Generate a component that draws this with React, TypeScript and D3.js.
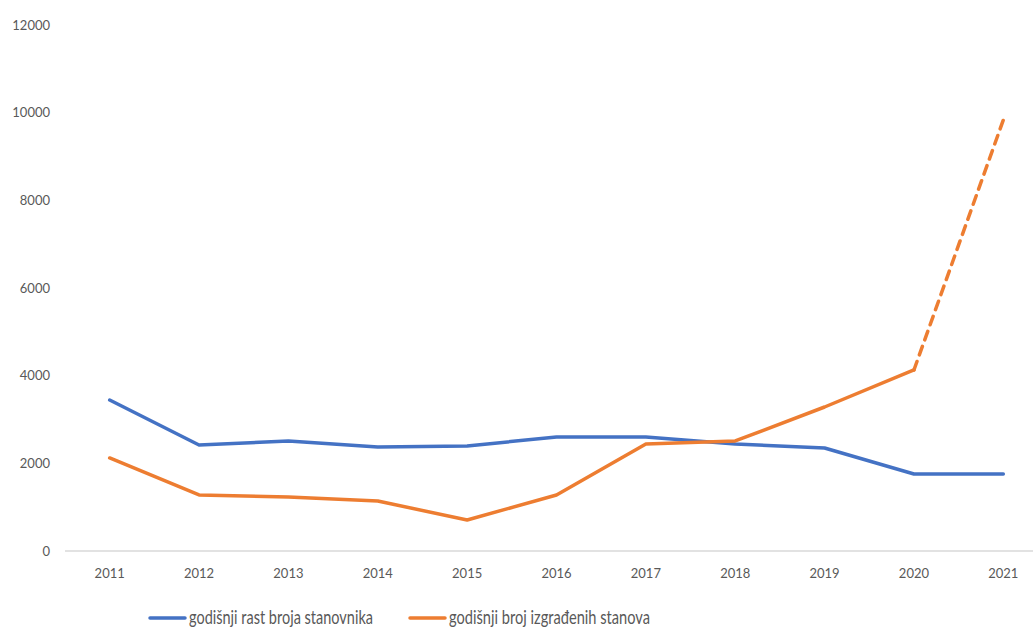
import React, { useEffect, useRef } from 'react';
import * as d3 from 'd3';

const years = ['2011', '2012', '2013', '2014', '2015', '2016', '2017', '2018', '2019', '2020', '2021'];
const populationGrowth = [3445, 2418, 2510, 2373, 2396, 2601, 2601, 2441, 2350, 1757, 1757];
const flatsBuilt = [2122, 1278, 1232, 1141, 707, 1278, 2441, 2510, 3285, 4130, 9833];
const yTicks = [0, 2000, 4000, 6000, 8000, 10000, 12000];
const seriesNames = ['godišnji rast broja stanovnika', 'godišnji broj izgrađenih stanova'];

const W = 1033;
const H = 630;
const BLUE = '#4472C4';
const ORANGE = '#ED7D31';
const FONT = 'Lato, "Open Sans", sans-serif';

export default function App() {
  const ref = useRef<SVGSVGElement>(null);

  useEffect(() => {
    const svg = d3.select(ref.current);
    svg.selectAll('*').remove();

    const x = d3.scaleBand().domain(years).range([65, 1048]);
    const cx = (d: string) => (x(d) as number) + x.bandwidth() / 2;
    const y = d3.scaleLinear().domain([0, 12000]).range([551, 25]);

    // y tick labels (no gridlines)
    svg.append('g')
      .selectAll('text')
      .data(yTicks)
      .enter()
      .append('text')
      .attr('x', 50)
      .attr('y', d => y(d))
      .attr('dy', '0.35em')
      .attr('text-anchor', 'end')
      .attr('font-family', FONT)
      .attr('font-size', 13)
      .attr('fill', '#595959')
      .text(d => d);

    // category axis line
    svg.append('line')
      .attr('x1', 65)
      .attr('x2', W)
      .attr('y1', y(0))
      .attr('y2', y(0))
      .attr('stroke', '#d9d9d9')
      .attr('stroke-width', 1.3);

    svg.append('g')
      .selectAll('text')
      .data(years)
      .enter()
      .append('text')
      .attr('x', d => cx(d))
      .attr('y', 578)
      .attr('text-anchor', 'middle')
      .attr('font-family', FONT)
      .attr('font-size', 13)
      .attr('fill', '#595959')
      .text(d => d);

    const line = d3.line<number>()
      .x((_, i) => cx(years[i]))
      .y(d => y(d));

    svg.append('path')
      .attr('d', line(populationGrowth))
      .attr('fill', 'none')
      .attr('stroke', BLUE)
      .attr('stroke-width', 3.5)
      .attr('stroke-linecap', 'round')
      .attr('stroke-linejoin', 'round');

    // orange: solid up to 2020, dashed for the last segment
    const last = flatsBuilt.length - 1;
    svg.append('path')
      .attr('d', line(flatsBuilt.slice(0, last)))
      .attr('fill', 'none')
      .attr('stroke', ORANGE)
      .attr('stroke-width', 3.5)
      .attr('stroke-linecap', 'round')
      .attr('stroke-linejoin', 'round');

    const dashLine = d3.line<number>()
      .x((_, i) => cx(years[last - 1 + i]))
      .y(d => y(d));
    svg.append('path')
      .attr('d', dashLine(flatsBuilt.slice(last - 1)))
      .attr('fill', 'none')
      .attr('stroke', ORANGE)
      .attr('stroke-width', 3.5)
      .attr('stroke-dasharray', '9 7')
      .attr('stroke-linecap', 'round');

    // legend
    const legendX = [150, 410];
    const legendW = [184, 201];
    const colors = [BLUE, ORANGE];
    const leg = svg.append('g');
    seriesNames.forEach((name, i) => {
      leg.append('line')
        .attr('x1', legendX[i])
        .attr('x2', legendX[i] + 35)
        .attr('y1', 618)
        .attr('y2', 618)
        .attr('stroke', colors[i])
        .attr('stroke-width', 3.5)
        .attr('stroke-linecap', 'round');
      leg.append('text')
        .attr('x', legendX[i] + 39)
        .attr('y', 624)
        .attr('font-family', FONT)
        .attr('font-size', 20)
        .attr('textLength', legendW[i])
        .attr('lengthAdjust', 'spacingAndGlyphs')
        .attr('fill', '#595959')
        .text(name);
    });
  }, []);

  return (
    <svg
      ref={ref}
      width={W}
      height={H}
      style={{ position: 'fixed', top: 0, left: 0, background: '#fff' }}
    />
  );
}
